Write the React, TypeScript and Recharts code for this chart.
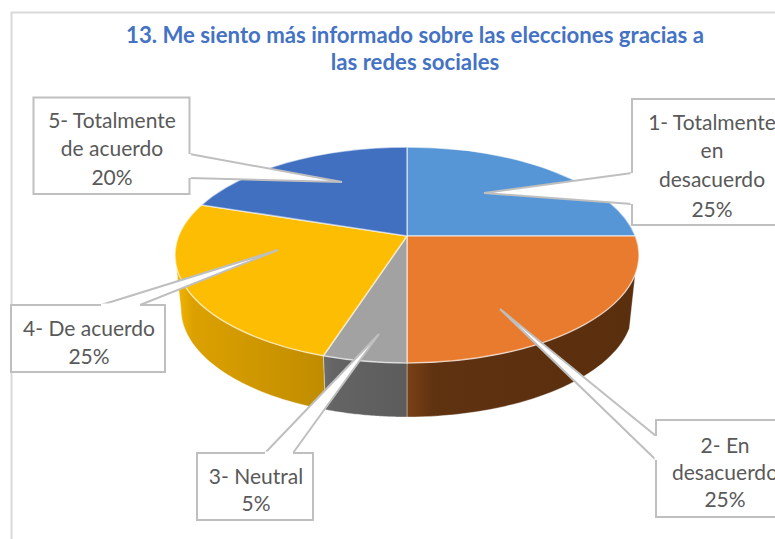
import { PieChart, Pie, Cell } from 'recharts';

const categories = ['1- Totalmente en desacuerdo', '2- En desacuerdo', '3- Neutral', '4- De acuerdo', '5- Totalmente de acuerdo'];
const values = [25, 25, 5, 25, 20];
const labelLines = [
  ['1- Totalmente', 'en', 'desacuerdo'],
  ['2- En', 'desacuerdo'],
  ['3- Neutral'],
  ['4- De acuerdo'],
  ['5- Totalmente', 'de acuerdo'],
];
const titleLines = ['13. Me siento más informado sobre las elecciones gracias a', 'las redes sociales'];

const topColors = ['#5796d6', '#e97b2e', '#a2a2a2', '#fdbd03', '#4170c0'];
// wall gradient, left to right
const wallColors = [
  ['#3a6c9c', '#3a6c9c', '#3a6c9c'],
  ['#7a4015', '#5f3210', '#5a2f0e'],
  ['#6d6d6d', '#646464', '#5c5c5c'],
  ['#f6b700', '#dca100', '#c08c00'],
  ['#2f5290', '#2f5290', '#2f5290'],
];

// callout boxes: x, y, w, h, tail outline, text centre, line baselines
const callouts = [
  { box: [632, 99, 160, 126], tail: [[632, 173], [484, 193], [632, 204]], tx: 712, ys: [130, 158, 187, 217] },
  { box: [656, 420, 140, 97], tail: [[656, 436], [500, 309], [656, 460]], tx: 725, ys: [453, 480, 507] },
  { box: [197, 453, 116, 67], tail: [[293, 453], [379, 334], [265, 453]], tx: 256, ys: [484, 511] },
  { box: [11, 305, 154, 67], tail: [[140, 305], [278, 250], [101, 305]], tx: 89, ys: [336, 364] },
  { box: [33.5, 97.5, 156, 96.5], tail: [[189.5, 154], [342, 182], [189.5, 178]], tx: 112, ys: [128, 156, 185] },
];

const data = categories.map((name, i) => ({ name, value: values[i] }));
const total = values.reduce((a, b) => a + b, 0);

// the top of the pie is a tilted ellipse, the apex sits above its centre
const APEX_OFFSET = 19;
const RY = 108;
const SQUASH = 2.15;
const DEPTH = 54;
const WALL_RX_INSET = 6;
const WALL_RIGHT_START = 0.18;

function rimPoint(cx: number, cy: number, rx: number, deg: number) {
  const a = (deg * Math.PI) / 180;
  const dx = Math.cos(a) * SQUASH;
  const dy = -Math.sin(a);
  const A = (dx * dx) / (rx * rx) + (dy * dy) / (RY * RY);
  const B = (-2 * dy * APEX_OFFSET) / (RY * RY);
  const C = (APEX_OFFSET * APEX_OFFSET) / (RY * RY) - 1;
  const t = (-B + Math.sqrt(B * B - 4 * A * C)) / (2 * A);
  return { x: cx + t * dx, y: cy + t * dy };
}

function Slice3D(props: any) {
  const { cx, cy, outerRadius: rx, startAngle, endAngle, name } = props;
  const index = categories.indexOf(name);
  const p0 = rimPoint(cx, cy, rx, startAngle);
  const p1 = rimPoint(cx, cy, rx, endAngle);
  const ey = cy + APEX_OFFSET;

  const param = (p: { x: number; y: number }) => Math.atan2((p.y - ey) / RY, (p.x - cx) / rx);
  const lo = Math.max(WALL_RIGHT_START, param(p0) < -Math.PI / 2 ? 0 : param(p0));
  let hi = param(p1);
  if (hi < 0) hi = Math.PI;
  const hasWall = !(param(p0) < 0 && param(p1) < 0 && param(p0) < param(p1)) && hi > lo;

  let wall = '';
  if (hasWall) {
    const steps = 40;
    const top: string[] = [];
    const bottom: string[] = [];
    for (let i = 0; i <= steps; i++) {
      const t = lo + ((hi - lo) * i) / steps;
      top.push(`${cx + rx * Math.cos(t)},${ey + RY * Math.sin(t)}`);
      bottom.unshift(`${cx + (rx - WALL_RX_INSET) * Math.cos(t)},${ey + DEPTH + RY * Math.sin(t)}`);
    }
    wall = `M${top.join('L')}L${bottom.join('L')}Z`;
  }

  const gradId = `wall-${index}`;
  return (
    <g>
      <defs>
        <linearGradient id={gradId} x1="0" y1="0" x2="1" y2="0">
          <stop offset="0%" stopColor={wallColors[index][0]} />
          <stop offset="12%" stopColor={wallColors[index][1]} />
          <stop offset="100%" stopColor={wallColors[index][2]} />
        </linearGradient>
      </defs>
      {wall && <path d={wall} fill={`url(#${gradId})`} stroke="#fff" strokeOpacity={0.35} strokeWidth={1} />}
      <path
        d={`M${cx},${cy}L${p0.x},${p0.y}A${rx},${RY} 0 0 1 ${p1.x},${p1.y}Z`}
        fill={topColors[index]}
        stroke="#fff"
        strokeOpacity={0.55}
        strokeWidth={1.5}
        strokeLinejoin="round"
      />
    </g>
  );
}

function renderCallout(props: any) {
  const { index } = props;
  const c = callouts[index];
  if (!c) return null;
  const [x, y, w, h] = c.box;
  const lines = [...labelLines[index], `${Math.round((values[index] / total) * 100)}%`];
  return (
    <g key={index}>
      <rect x={x} y={y} width={w} height={h} fill="#fff" stroke="#bfbfbf" strokeWidth={2} />
      <polygon points={c.tail.map((p) => p.join(',')).join(' ')} fill="#fff" stroke="none" />
      <polyline points={c.tail.map((p) => p.join(',')).join(' ')} fill="none" stroke="#bfbfbf" strokeWidth={2} />
      <line x1={c.tail[0][0]} y1={c.tail[0][1]} x2={c.tail[2][0]} y2={c.tail[2][1]} stroke="#fff" strokeWidth={3} />
      {lines.map((line, i) => (
        <text key={i} x={c.tx} y={c.ys[i]} textAnchor="middle" fontFamily="Lato" fontSize={21} fill="#595959">
          {line}
        </text>
      ))}
    </g>
  );
}

export default function App() {
  return (
    <div style={{ position: 'absolute', left: 0, top: 0, width: 775, height: 539, overflow: 'hidden', background: '#fff' }}>
      <PieChart width={775} height={539} margin={{ top: 0, right: 0, bottom: 0, left: 0 }}>
        <rect x={11.5} y={12.5} width={790} height={560} fill="#fff" stroke="#d9d9d9" strokeWidth={2} />
        {titleLines.map((line, i) => (
          <text key={i} x={415} y={42.5 + i * 27.5} textAnchor="middle" fontFamily="Lato" fontWeight={700} fontSize={22.2} fill="#4472c4">
            {line}
          </text>
        ))}
        <Pie
          data={data}
          dataKey="value"
          nameKey="name"
          cx={407}
          cy={236}
          innerRadius={0}
          outerRadius={232}
          startAngle={90}
          endAngle={-270}
          stroke="none"
          shape={Slice3D}
          label={renderCallout}
          labelLine={false}
          isAnimationActive={false}
        >
          {data.map((d, i) => (
            <Cell key={d.name} fill={topColors[i]} />
          ))}
        </Pie>
      </PieChart>
    </div>
  );
}
